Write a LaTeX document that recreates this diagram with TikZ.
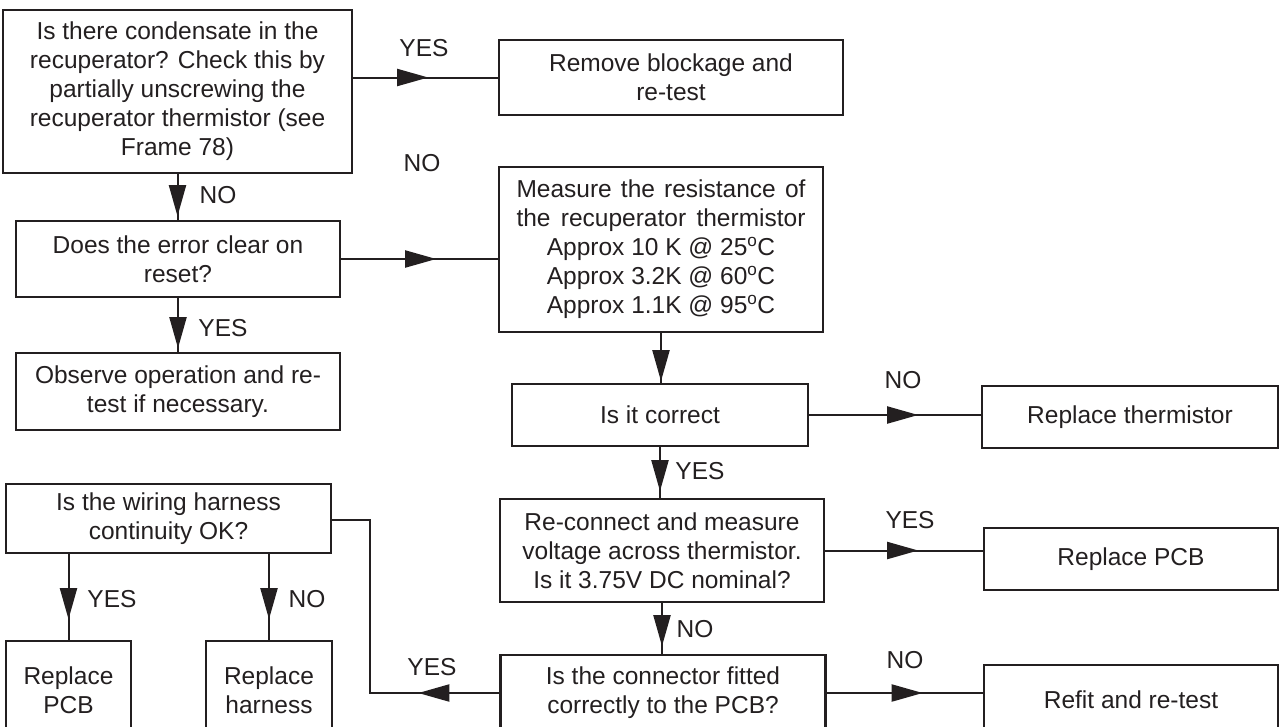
\documentclass[tikz,border=0pt]{standalone}
\usepackage{fontspec}
\setmainfont{Liberation Sans}
\usetikzlibrary{arrows.meta,decorations.markings}
\definecolor{ink}{HTML}{231F20}
\tikzset{
 box/.style={draw=ink, line width=2.4pt, inner sep=0pt, align=center, font=\fontsize{24.5}{29}\selectfont, text=ink},
 conn/.style={draw=ink, color=ink, line width=2pt},
 tipat/.style={postaction={decorate}, decoration={markings, mark=at position #1 with {\arrow{Triangle[length=31pt,width=17pt]}}}},
 lbl/.style={font=\fontsize{24.5}{29}\selectfont, text=ink, inner sep=0pt},
}
\begin{document}
\begin{tikzpicture}[x=1pt,y=-1pt]
\useasboundingbox (0,0) rectangle (1284,726);
\clip (0,0) rectangle (1284,726);
% boxes
\node[box, minimum width=349pt, minimum height=163pt] (A) at (177.5,91.5) {Is there condensate in the\\recuperator? Check this by\\partially unscrewing the\\recuperator thermistor (see\\Frame 78)};
\node[box, minimum width=344pt, minimum height=75pt] (Remove) at (671,77.5) {Remove blockage and\\re-test};
\node[box, minimum width=324pt, minimum height=76pt] (B) at (178,259) {Does the error clear on\\reset?};
\node[box, minimum width=324pt, minimum height=77pt] (C) at (178,391.5) {Observe operation and re-\\test if necessary.};
\node[box, minimum width=324pt, minimum height=165pt] (Measure) at (661,249.5) {\makebox[289pt][s]{Measure the resistance of}\\\makebox[289pt][s]{the recuperator thermistor}\\Approx 10 K @ 25\textsuperscript{o}C\\Approx 3.2K @ 60\textsuperscript{o}C\\Approx 1.1K @ 95\textsuperscript{o}C};
\node[box, minimum width=296pt, minimum height=62pt] (Correct) at (660,415) {Is it correct};
\node[box, minimum width=296pt, minimum height=62pt] (RT) at (1130,417) {Replace thermistor};
\node[box, minimum width=324pt, minimum height=103pt] (RC) at (662,550.5) {Re-connect and measure\\voltage across thermistor.\\Is it 3.75V DC nominal?};
\node[box, minimum width=294pt, minimum height=62pt] (RPCB) at (1131,559) {Replace PCB};
\node[box, minimum width=325pt, minimum height=76pt] (Conn) at (663,693) {Is the connector fitted\\correctly to the PCB?};
\node[box, minimum width=294pt, minimum height=70pt] (Refit) at (1131,700) {Refit and re-test};
\node[box, minimum width=325pt, minimum height=69pt] (Wiring) at (168.5,518.5) {Is the wiring harness\\continuity OK?};
\node[box, minimum width=125pt, minimum height=99pt] (RP1) at (68.5,690.5) {Replace\\PCB};
\node[box, minimum width=126pt, minimum height=99pt] (RH) at (269,690.5) {Replace\\harness};
% connectors
\draw[conn, tipat=75pt] (A.east |- Remove.west) -- (Remove.west);
\draw[conn, tipat=42pt] (A.south) -- (A.south |- B.north);
\draw[conn, tipat=95pt] (B.east) -- (B.east -| Measure.west);
\draw[conn, tipat=50pt] (B.south) -- (B.south |- C.north);
\draw[conn, tipat=48pt] (Measure.south) -- (Measure.south |- Correct.north);
\draw[conn, tipat=109pt] (Correct.east) -- (Correct.east -| RT.west);
\draw[conn, tipat=44pt] (Correct.south) -- (Correct.south |- RC.north);
\draw[conn, tipat=93pt] (RC.east) -- (RC.east -| RPCB.west);
\draw[conn, tipat=43pt] (RC.south) -- (RC.south |- Conn.north);
\draw[conn, tipat=96pt] (Conn.east) -- (Conn.east -| Refit.west);
\coordinate (j1) at (370,693);
\coordinate (j2) at (370,520);
\draw[conn, tipat=81pt] (Conn.west) -- (j1) -- (j2) -- (j2 -| Wiring.east);
\draw[conn, tipat=65pt] (RP1.north |- Wiring.south) -- (RP1.north);
\draw[conn, tipat=65pt] (RH.north |- Wiring.south) -- (RH.north);
% labels
\node[lbl] (l1) at (424,48) {YES};
\node[lbl] (l2) at (422,163) {NO};
\node[lbl] (l3) at (218,195) {NO};
\node[lbl] (l4) at (223,328) {YES};
\node[lbl] (l5) at (903,380) {NO};
\node[lbl] (l6) at (700,471) {YES};
\node[lbl] (l7) at (910,520) {YES};
\node[lbl] (l8) at (695,629) {NO};
\node[lbl] (l9) at (905,660) {NO};
\node[lbl] (l10) at (432,667) {YES};
\node[lbl] (l11) at (112,599) {YES};
\node[lbl] (l12) at (307,599) {NO};
\end{tikzpicture}
\end{document}
